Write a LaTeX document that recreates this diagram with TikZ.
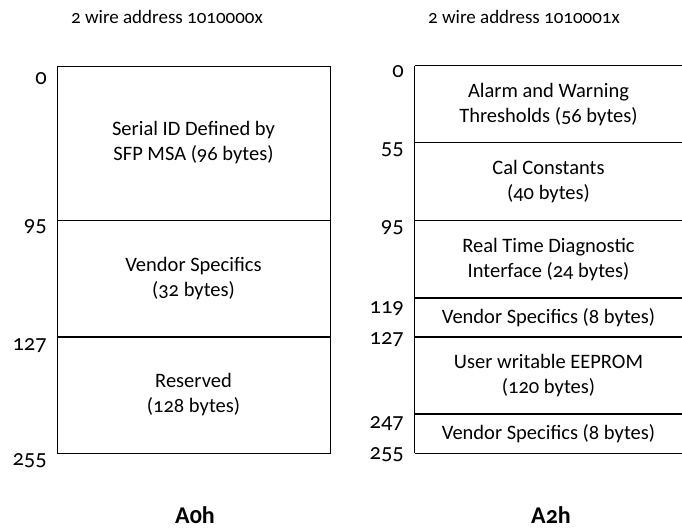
\documentclass[tikz,border=0pt]{standalone}
\usepackage{fontspec}
\setmainfont{Carlito}[Numbers=OldStyle]
\begin{document}
\begin{tikzpicture}[x=1pt, y=-1pt,
    leftbox/.style={rectangle, draw, line width=0.8pt, minimum width=273pt, inner sep=0pt, align=center, font=\fontsize{20.5}{25}\selectfont},
    rightbox/.style={rectangle, minimum width=267pt, inner sep=0pt, align=center, font=\fontsize{20.5}{25}\selectfont},
    offset/.style={anchor=base east, inner sep=0pt, font=\fontsize{22.5}{25}\selectfont},
    addr/.style={font=\fontsize{19}{20}\selectfont},
    page/.style={font=\fontsize{24}{25}\selectfont\bfseries},
    sep/.style={line width=1.4pt}
]
    \useasboundingbox (0,0) rectangle (682,529);

    % device A0h
    \node[addr] (addrA) at (167,17) {2 wire address 1010000x};
    \node[leftbox, minimum height=154pt] (serial) at (193.5,143) {Serial ID Defined by\\SFP MSA (96 bytes)};
    \node[leftbox, minimum height=117pt] (vendA) at (193.5,278.5) {Vendor Specifics\\(32 bytes)};
    \node[leftbox, minimum height=116pt] (reserved) at (193.5,395) {Reserved\\(128 bytes)};
    \draw[line width=1.2pt] (reserved.north west) -- (reserved.north east);
    \draw[line width=1.2pt] (reserved.south west) -- (reserved.south east);
    \foreach \y/\t in {85/0, 232/95, 350/127, 465/255}
        \node[offset] (offA\t) at (47,\y) {\t};
    \node[page] (pageA) at (195,515) {A0h};

    % device A2h
    \node[addr] (addrB) at (524,17) {2 wire address 1010001x};
    \node[rightbox, minimum height=77pt] (alarm) at (548.5,104.5) {Alarm and Warning\\Thresholds (56 bytes)};
    \node[rightbox, minimum height=78pt] (cal) at (548.5,182) {Cal Constants\\(40 bytes)};
    \node[rightbox, minimum height=77pt] (diag) at (548.5,259.5) {Real Time Diagnostic\\Interface (24 bytes)};
    \node[rightbox, minimum height=39pt] (vendB) at (548.5,317.5) {Vendor Specifics (8 bytes)};
    \node[rightbox, minimum height=77pt] (user) at (548.5,375.5) {User writable EEPROM\\(120 bytes)};
    \node[rightbox, minimum height=39pt] (vendC) at (548.5,433.5) {Vendor Specifics (8 bytes)};
    \foreach \y/\t in {78/0, 155/55, 233/95, 313/119, 344/127, 428/247, 459/255}
        \node[offset] (offB\t) at (404,\y) {\t};
    \node[page] (pageB) at (551,515) {A2h};

    \foreach \n in {alarm, cal, diag, vendB, user, vendC}
        \draw[sep] (\n.north west) -- (\n.north east);
    \draw[sep] (vendC.south west) -- (vendC.south east);
    \draw[line width=0.8pt] (alarm.north west) -- (vendC.south west);
\end{tikzpicture}
\end{document}
